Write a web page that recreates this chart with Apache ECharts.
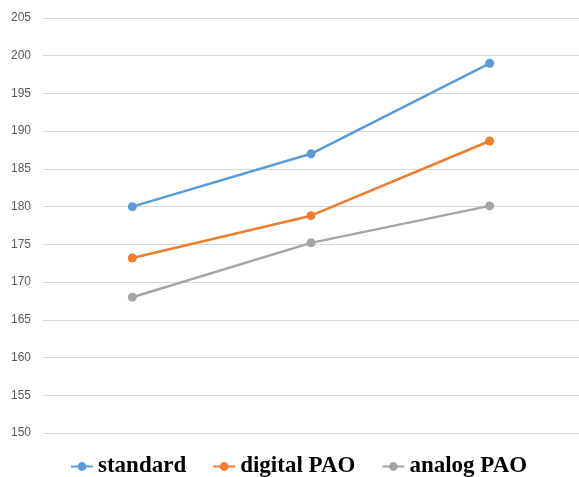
<!DOCTYPE html>
<html><head><meta charset="utf-8">
<script src="https://cdn.jsdelivr.net/npm/echarts@6/dist/echarts.min.js"></script>
<style>html,body{margin:0;padding:0;background:#fff}#c{width:579px;height:477px}</style>
</head><body><div id="c"></div>
<script>
var categories = ['1', '2', '3'];
var standard = [180, 187, 199];
var digitalPAO = [173.2, 178.8, 188.7];
var analogPAO = [168, 175.2, 180.1];
var yTicks = {min: 150, max: 205, interval: 5};

var chart = echarts.init(document.getElementById('c'));
function mk(name, data, color) {
  return {name: name, type: 'line', data: data, symbol: 'circle', symbolSize: 9,
    lineStyle: {width: 2.5, color: color}, itemStyle: {color: color}};
}
chart.setOption({
  animation: false,
  color: ['#5B9BD5', '#ED7D31', '#A5A5A5'],
  grid: {left: 43, right: -3, top: 18, bottom: 44, containLabel: false},
  xAxis: {type: 'category', data: categories, boundaryGap: true,
    axisLine: {show: false}, axisTick: {show: false}, axisLabel: {show: false}},
  yAxis: {type: 'value', min: yTicks.min, max: yTicks.max, interval: yTicks.interval,
    axisLine: {show: false}, axisTick: {show: false},
    axisLabel: {color: '#595959', fontSize: 12, margin: 12, fontFamily: 'Liberation Sans'},
    splitLine: {lineStyle: {color: '#D9D9D9', width: 1}}},
  legend: {bottom: -6, left: 65, itemWidth: 22, itemHeight: 11, itemGap: 26,
    textStyle: {fontFamily: 'Liberation Serif', fontWeight: 'bold', fontSize: 23, color: '#000'}},
  series: [mk('standard', standard, '#5B9BD5'), mk('digital PAO', digitalPAO, '#ED7D31'), mk('analog PAO', analogPAO, '#A5A5A5')]
});
</script></body></html>
